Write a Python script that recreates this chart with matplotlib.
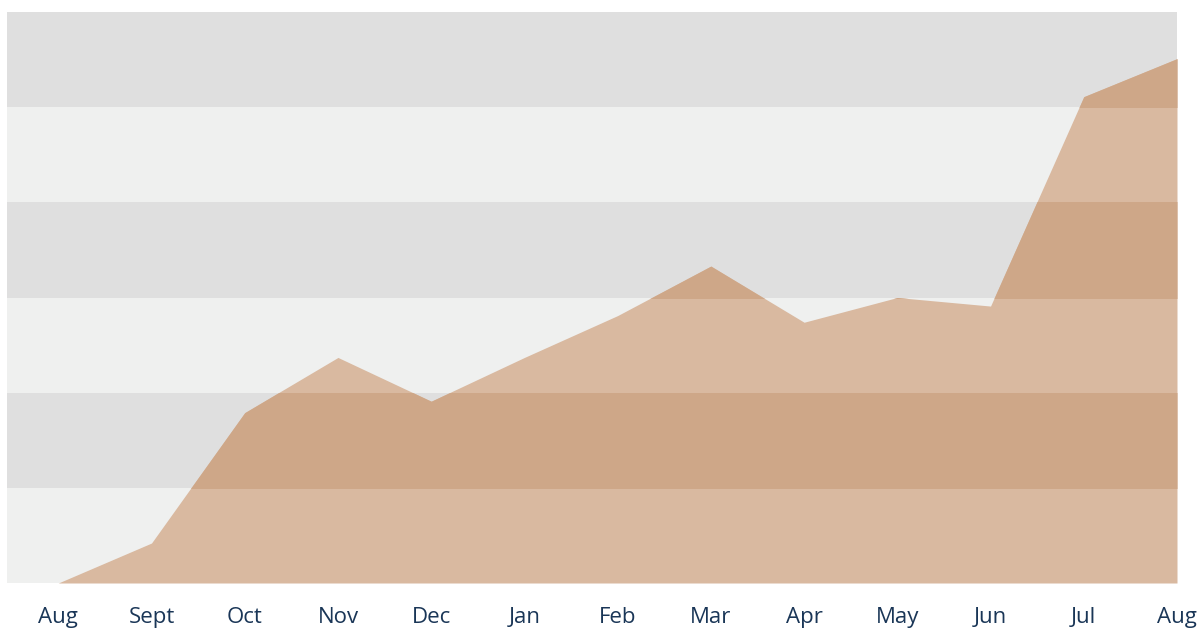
import matplotlib.pyplot as plt
from matplotlib.patches import Rectangle

months = ["Aug", "Sept", "Oct", "Nov", "Dec", "Jan", "Feb", "Mar",
          "Apr", "May", "Jun", "Jul", "Aug"]
values = [0.0, 0.42, 1.79, 2.37, 1.91, 2.37, 2.81, 3.33,
          2.74, 3.0, 2.91, 5.11, 5.51]
n_bands = 6

light_band = "#eff0ef"
dark_band = "#dfdfdf"
fill_light = "#d9b9a0"
fill_dark = "#cea788"
text_color = "#1a3657"

W, H = 1199, 628
fig = plt.figure(figsize=(W / 100, H / 100), dpi=100)
ax = fig.add_axes([7 / W, (H - 583) / H, 1170 / W, 571 / H])

x = list(range(len(months)))
ax.set_xlim(-0.55, len(months) - 1)
ax.set_ylim(0, n_bands)

# alternating horizontal bands, top one darker
for i in range(n_bands):
    c = dark_band if (n_bands - 1 - i) % 2 == 0 else light_band
    ax.axhspan(i, i + 1, color=c, lw=0, zorder=0)

ax.fill_between(x, values, 0, color=fill_light, lw=0, zorder=1)

# darker tone of the fill where it sits over the grey bands
for i in range(n_bands):
    if (n_bands - 1 - i) % 2 == 0:
        clip = Rectangle((-1, i), 20, 1, transform=ax.transData)
        poly = ax.fill_between(x, values, 0, color=fill_dark, lw=0, zorder=2)
        poly.set_clip_path(clip)

ax.set_xticks(x)
ax.set_xticklabels(months, fontsize=16, color=text_color,
                   fontfamily="Open Sans", fontweight="medium")
ax.tick_params(axis="x", length=0, pad=17)
ax.set_yticks([])
for s in ax.spines.values():
    s.set_visible(False)

fig.savefig("out.png", dpi=100, facecolor="white")
